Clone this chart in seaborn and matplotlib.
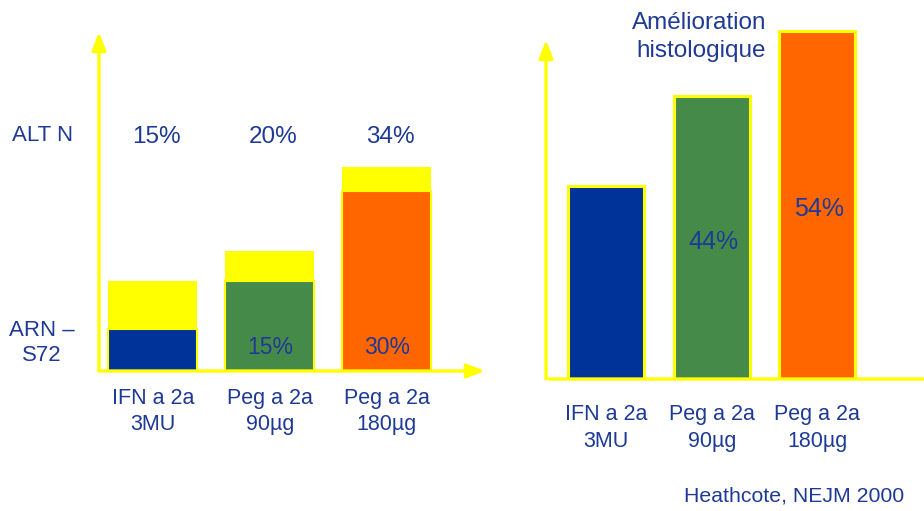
import matplotlib
matplotlib.use("Agg")
import matplotlib.pyplot as plt
import seaborn as sns
import pandas as pd

sns.set_theme(style="white")
plt.rcParams['font.family'] = ['Liberation Sans', 'DejaVu Sans']

# Data
categories = ["IFN a 2a\n3MU", "Peg a 2a\n90µg", "Peg a 2a\n180µg"]
alt_normal = [15, 20, 34]          # ALT N (%)
arn_s72 = [7, 15, 30]              # ARN – S72 (%)
histo = [30, 44, 54]               # Amélioration histologique (%)
arn_labels = [None, "15%", "30%"]
histo_labels = [None, "44%", "54%"]

bar_colors = ["#003399", "#468A4A", "#FF6600"]
yellow = "#FFFF00"
text_color = "#1E3A96"

W, H = 924, 511
fig = plt.figure(figsize=(W / 100, H / 100), dpi=100)
fig.patch.set_facecolor("white")


def px_axes(left, bottom_y, width, height):
    # bottom_y given as pixel row from top
    return fig.add_axes([left / W, (H - bottom_y) / H, width / W, height / H])


def arrow(ax, start, end):
    ax.annotate("", xy=end, xytext=start, xycoords="axes fraction",
                textcoords="axes fraction", annotation_clip=False,
                arrowprops=dict(arrowstyle="-|>,head_length=0.9,head_width=0.35",
                                color=yellow, lw=2.4, shrinkA=0, shrinkB=0))


# ---------- Left panel: ALT N / ARN – S72 ----------
df_left = pd.DataFrame({"cat": categories, "alt": alt_normal, "arn": arn_s72})
axL = px_axes(99, 371, 386, 339)
sns.barplot(data=df_left, x="cat", y="alt", color=yellow, saturation=1,
            width=0.76, edgecolor=yellow, linewidth=0, ax=axL)
sns.barplot(data=df_left, x="cat", y="arn", hue="cat", palette=bar_colors,
            saturation=1, width=0.76, edgecolor=yellow, linewidth=1.5,
            legend=False, ax=axL)
axL.set_xlim(-0.46, 2.84)
axL.set_ylim(0, 339 / 6.0)
for s in axL.spines.values():
    s.set_visible(False)
axL.set_yticks([])
axL.set_xlabel("")
axL.set_ylabel("")
axL.tick_params(axis="x", length=0, pad=12, labelsize=15.5, labelcolor=text_color)
for lbl in axL.get_xticklabels():
    lbl.set_linespacing(1.36)
axL.patch.set_alpha(0)
arrow(axL, (0, 0), (0, 1.0))
arrow(axL, (0, 0), (1.0, 0))

for i, v in enumerate(alt_normal):
    axL.text(i + 0.03, 39, f"{v}%", ha="center", va="center",
             fontsize=17.5, color=text_color)
for i, lab in enumerate(arn_labels):
    if lab:
        axL.text(i, 4, lab, ha="center", va="center", fontsize=16.5, color=text_color)

fig.text(12 / W, 1 - 135 / H, "ALT N", ha="left", va="center",
         fontsize=16, color=text_color)
fig.text(42 / W, 1 - 343 / H, "ARN –\nS72", ha="center", va="center",
         fontsize=16, color=text_color, linespacing=1.3)

# ---------- Right panel: Amélioration histologique ----------
df_right = pd.DataFrame({"cat": categories, "histo": histo})
px_per = 6.44
axR = px_axes(546, 379, 380, 361)
sns.barplot(data=df_right, x="cat", y="histo", hue="cat", palette=bar_colors,
            saturation=1, width=0.72, edgecolor=yellow, linewidth=2.2,
            legend=False, ax=axR)
axR.set_xlim(-0.57, 3.03)
axR.set_ylim(0, 361 / px_per)
for s in axR.spines.values():
    s.set_visible(False)
axR.set_yticks([])
axR.set_xlabel("")
axR.set_ylabel("")
axR.tick_params(axis="x", length=0, pad=18, labelsize=15.5, labelcolor=text_color)
for lbl in axR.get_xticklabels():
    lbl.set_linespacing(1.4)
axR.patch.set_alpha(0)
arrow(axR, (0, 0), (0, 339 / 361))
axR.annotate("", xy=(1.08, 0), xytext=(0.008, 0), xycoords="axes fraction",
             textcoords="axes fraction", annotation_clip=False,
             arrowprops=dict(arrowstyle="-|>,head_length=0.9,head_width=0.35",
                             color=yellow, lw=2.4, shrinkA=0, shrinkB=0))

label_y = [None, 21.2, 26.4]
for i, lab in enumerate(histo_labels):
    if lab:
        axR.text(i + 0.02, label_y[i], lab, ha="center", va="center",
                 fontsize=18, color=text_color)

fig.text(766 / W, 1 - 37 / H, "Amélioration\nhistologique", ha="right",
         va="center", fontsize=17.5, color=text_color, linespacing=1.38,
         multialignment="right")
fig.text(904 / W, 1 - 496 / H, "Heathcote, NEJM 2000", ha="right",
         va="center", fontsize=15.3, color=text_color)

fig.savefig("out.png", dpi=100, facecolor="white")
